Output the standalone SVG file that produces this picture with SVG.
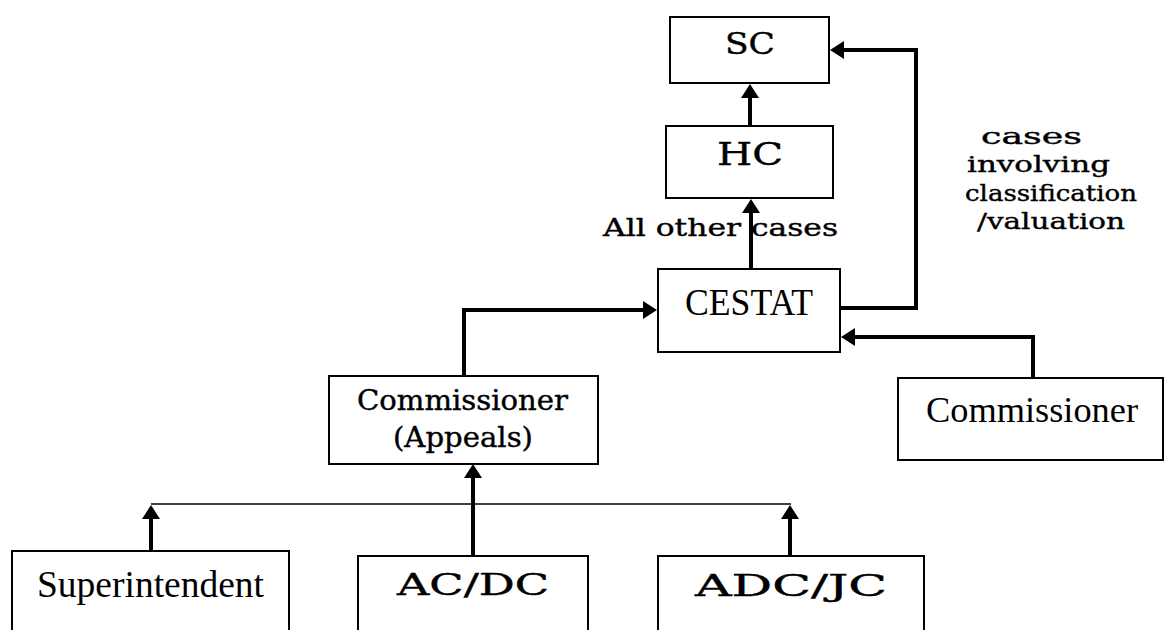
<svg xmlns="http://www.w3.org/2000/svg" width="1165" height="630" viewBox="0 0 1165 630">
  <style>
    .box { fill: #ffffff; stroke: #000000; stroke-width: 2; }
    .thick { fill: none; stroke: #000000; stroke-width: 4; }
    .thin { fill: none; stroke: #000000; stroke-width: 1.5; }
    .wide { font-family: "DejaVu Serif", "Liberation Serif", serif; fill: #000000; stroke: #000000; stroke-width: 0.4; }
    .times { font-family: "Liberation Serif", "Times New Roman", serif; fill: #000000; }
  </style>
  <defs>
    <marker id="head" markerUnits="userSpaceOnUse" viewBox="0 0 14 18" markerWidth="14" markerHeight="18" refX="6" refY="9" orient="auto">
      <path d="M0,0 L14,9 L0,18 Z" fill="#000000"/>
    </marker>
  </defs>

  <rect width="1165" height="630" fill="#ffffff"/>

  <!-- connectors -->
  <g id="connectors">
    <path class="thick" d="M750,126 L750,92" marker-end="url(#head)"/>
    <path class="thick" d="M751,269 L751,207" marker-end="url(#head)"/>
    <path class="thick" d="M840,308 L916,308 L916,50 L838,50" marker-end="url(#head)"/>
    <path class="thick" d="M1033,378 L1033,337 L849,337" marker-end="url(#head)"/>
    <path class="thick" d="M464,376 L464,310 L649,310" marker-end="url(#head)"/>
    <path class="thick" d="M473,556 L473,472" marker-end="url(#head)"/>
    <path class="thin" d="M151,504 L791,504"/>
    <path class="thick" d="M151,551 L151,513" marker-end="url(#head)"/>
    <path class="thick" d="M790,556 L790,513" marker-end="url(#head)"/>
  </g>

  <!-- labels on connectors -->
  <text class="wide" x="603" y="236" font-size="25" textLength="235" lengthAdjust="spacingAndGlyphs">All other cases</text>
  <g id="route-label" class="wide" font-size="23">
    <text x="981" y="144" textLength="101" lengthAdjust="spacingAndGlyphs">cases</text>
    <text x="967" y="172" textLength="143" lengthAdjust="spacingAndGlyphs">involving</text>
    <text x="965" y="201" textLength="172" lengthAdjust="spacingAndGlyphs">classification</text>
    <text x="977" y="229" textLength="148" lengthAdjust="spacingAndGlyphs">/valuation</text>
  </g>

  <!-- nodes -->
  <g id="sc">
    <rect class="box" x="670" y="17" width="159" height="66"/>
    <text class="wide" x="725" y="54" font-size="30" textLength="50" lengthAdjust="spacingAndGlyphs">SC</text>
  </g>
  <g id="hc">
    <rect class="box" x="666" y="126" width="167" height="72"/>
    <text class="wide" x="717" y="165" font-size="32" textLength="66" lengthAdjust="spacingAndGlyphs">HC</text>
  </g>
  <g id="cestat">
    <rect class="box" x="658" y="269" width="182" height="83"/>
    <text class="times" x="685" y="315" font-size="38" textLength="128" lengthAdjust="spacingAndGlyphs">CESTAT</text>
  </g>
  <g id="commissioner-appeals">
    <rect class="box" x="329" y="376" width="269" height="88"/>
    <text class="wide" x="357" y="410" font-size="28" textLength="211" lengthAdjust="spacingAndGlyphs">Commissioner</text>
    <text class="wide" x="393" y="447" font-size="28" textLength="140" lengthAdjust="spacingAndGlyphs">(Appeals)</text>
  </g>
  <g id="commissioner">
    <rect class="box" x="898" y="378" width="265" height="82"/>
    <text class="times" x="926" y="422" font-size="36" textLength="212" lengthAdjust="spacingAndGlyphs">Commissioner</text>
  </g>
  <g id="superintendent">
    <rect class="box" x="12" y="551" width="277" height="100"/>
    <text class="times" x="37" y="597" font-size="37" textLength="227" lengthAdjust="spacingAndGlyphs">Superintendent</text>
  </g>
  <g id="ac-dc">
    <rect class="box" x="358" y="556" width="230" height="100" stroke-width="2.5"/>
    <text class="wide" x="397" y="595" font-size="29" textLength="152" lengthAdjust="spacingAndGlyphs">AC/DC</text>
  </g>
  <g id="adc-jc">
    <rect class="box" x="658" y="556" width="266" height="100" stroke-width="2.5"/>
    <text class="wide" x="695" y="596" font-size="29" textLength="192" lengthAdjust="spacingAndGlyphs">ADC/JC</text>
  </g>
</svg>
